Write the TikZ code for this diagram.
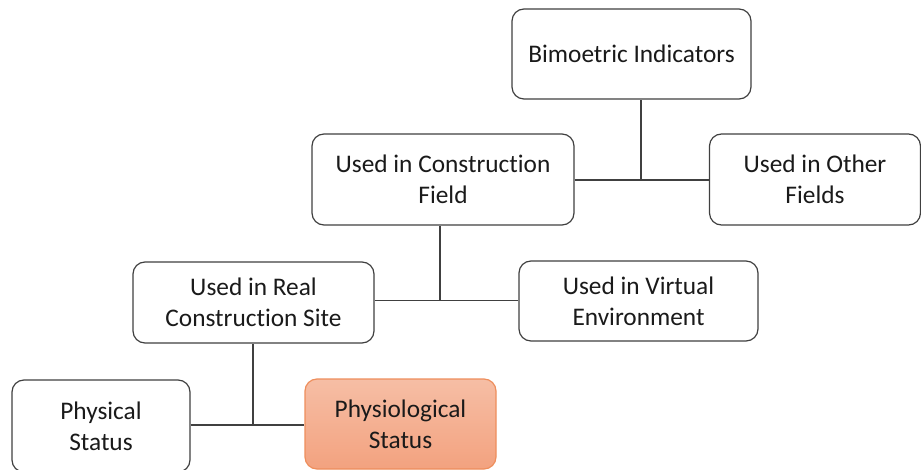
\documentclass[tikz,border=0pt]{standalone}
\usepackage{fontspec}
\setmainfont[Ligatures=NoCommon]{Carlito}
\definecolor{edge}{HTML}{404040}
\definecolor{txt}{HTML}{1A1A1A}
\definecolor{peachtop}{HTML}{F6BEA5}
\definecolor{peachbot}{HTML}{F3A27F}
\definecolor{peachedge}{HTML}{EE8E5C}
\tikzset{
  box/.style={draw=edge, line width=0.9pt, rounded corners=9pt, fill=white,
    text=txt, align=center, inner sep=0pt,
    font=\fontsize{19}{23.2}\selectfont},
  hot/.style={box, draw=peachedge, top color=peachtop, bottom color=peachbot},
  link/.style={draw=edge, line width=0.9pt},
}
\begin{document}
\begin{tikzpicture}[x=0.75pt, y=-0.75pt]
\useasboundingbox (0,0) rectangle (921,470);
% top-level node
\node[box, minimum width=179.25pt, minimum height=67.5pt] (bio) at (631.5,54) {Bimoetric Indicators};
% second level
\node[box, minimum width=196.5pt, minimum height=68.25pt] (cf) at (443,179.5) {Used in Construction\\Field};
\node[box, minimum width=158.25pt, minimum height=68.25pt] (of) at (815,179.5) {Used in Other\\Fields};
% third level
\node[box, minimum width=180.75pt, minimum height=60.75pt] (rs) at (253.5,302.5) {Used in Real\\Construction Site};
\node[box, minimum width=179.25pt, minimum height=60pt] (ve) at (638.5,301) {Used in Virtual\\Environment};
% bottom level
\node[box, minimum width=133.5pt, minimum height=69pt] (ps) at (101,426) {Physical\\Status};
\node[hot, minimum width=143.25pt, minimum height=67.5pt] (pl) at (400.5,424) {Physiological\\Status};
% junctions
\coordinate (j1) at (641,180);
\coordinate (j2) at (440,300.5);
\coordinate (j3) at (253,425);
% connectors
\draw[link] (cf.east |- j1) -- (of.west |- j1);
\draw[link] (j1) -- (j1 |- bio.south);
\draw[link] (rs.east |- j2) -- (ve.west |- j2);
\draw[link] (j2) -- (j2 |- cf.south);
\draw[link] (ps.east |- j3) -- (pl.west |- j3);
\draw[link] (j3) -- (j3 |- rs.south);
\end{tikzpicture}
\end{document}
